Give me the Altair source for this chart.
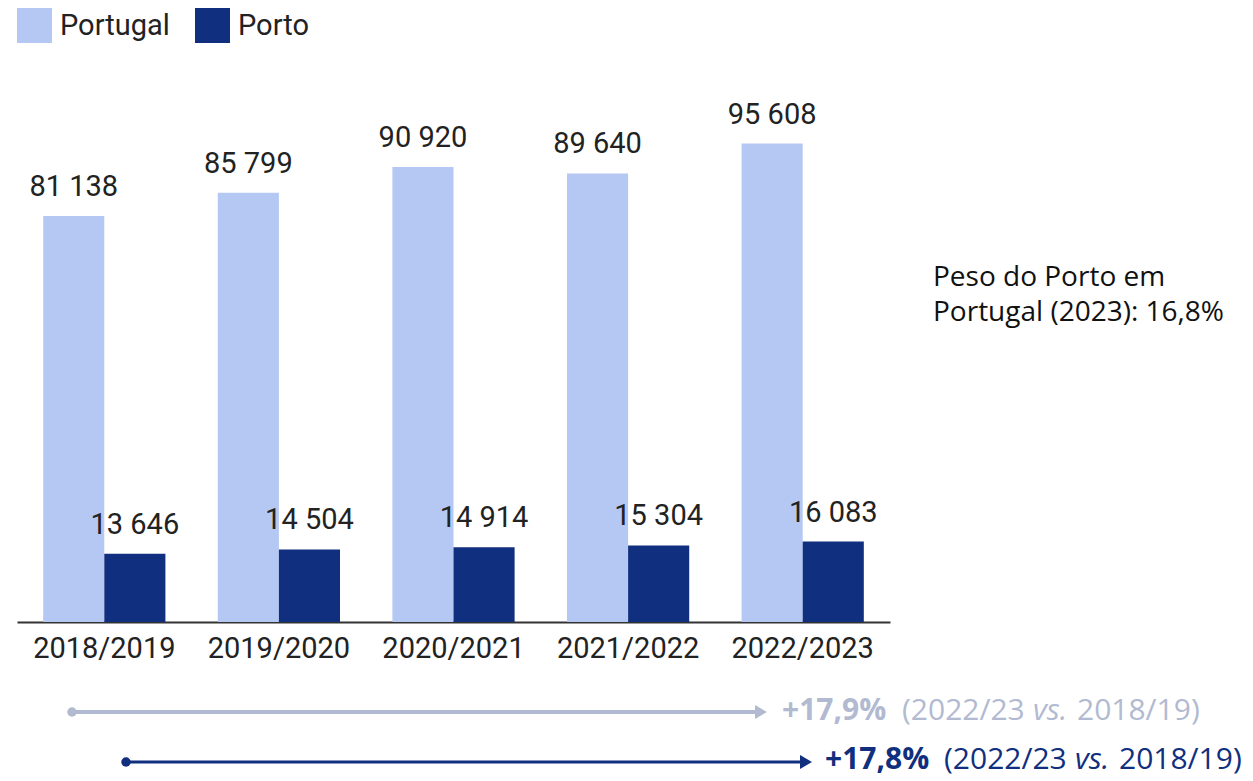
import altair as alt
import pandas as pd

# ---- data ----
categories = ["2018/2019", "2019/2020", "2020/2021", "2021/2022", "2022/2023"]
series = ["Portugal", "Porto"]
portugal_values = [81138, 85799, 90920, 89640, 95608]
porto_values = [13646, 14504, 14914, 15304, 16083]

side_note = ["Peso do Porto em", "Portugal (2023): 16,8%"]
growth_portugal = "+17,9%"
growth_porto = "+17,8%"
period_a = "(2022/23"
period_vs = "vs."
period_b = "2018/19)"

# ---- styles ----
C_PT = "#b5c8f3"
C_PO = "#102f7e"
C_GREY = "#b2bad1"
C_TXT = "#222222"

rows = []
for c, a, b in zip(categories, portugal_values, porto_values):
    rows.append({"cat": c, "series": "Portugal", "value": a})
    rows.append({"cat": c, "series": "Porto", "value": b})
df = pd.DataFrame(rows)
df["label"] = df["value"].map(lambda v: f"{v:,}".replace(",", " "))

W, H = 873, 614

base = alt.Chart(df).encode(
    x=alt.X("cat:N", sort=categories,
            scale=alt.Scale(paddingInner=0.3, paddingOuter=0.15),
            axis=alt.Axis(title=None, labelAngle=0, domainColor="#333333",
                          domainWidth=2, ticks=False, labelFont="Roboto",
                          labelFontSize=29, labelColor=C_TXT, labelPadding=12,
                          grid=False)),
    xOffset=alt.XOffset("series:N", sort=series,
                        scale=alt.Scale(paddingInner=0, paddingOuter=0)),
    y=alt.Y("value:Q", scale=alt.Scale(domain=[0, 122700], nice=False, zero=True),
            axis=None),
)

bars = base.mark_bar().encode(
    color=alt.Color("series:N", sort=series,
                    scale=alt.Scale(domain=series, range=[C_PT, C_PO]),
                    legend=alt.Legend(title=None, orient="none", legendX=0, legendY=0,
                                      direction="horizontal", symbolType="square",
                                      symbolSize=1225, symbolStrokeWidth=0,
                                      symbolOpacity=1, labelFont="Roboto",
                                      labelFontSize=29, labelColor=C_TXT,
                                      labelOffset=8, columnPadding=25, padding=0))
)

labels = base.mark_text(dy=-20, baseline="alphabetic", font="Roboto",
                        fontSize=29, color=C_TXT).encode(text="label:N")

one = pd.DataFrame({"k": [0]})


def arrow(x1, x2, y, color, sw):
    line = alt.Chart(one).mark_rule(color=color, strokeWidth=sw).encode(
        x=alt.value(x1), x2=alt.value(x2), y=alt.value(y))
    dot = alt.Chart(one).mark_point(shape="circle", filled=True, size=90,
                                    opacity=1, color=color).encode(
        x=alt.value(x1), y=alt.value(y))
    head = alt.Chart(one).mark_point(shape="triangle-right", filled=True, size=190,
                                     opacity=1, color=color).encode(
        x=alt.value(x2), y=alt.value(y))
    return line + dot + head


def txt(s, x, y, color, weight="normal", style="normal", font="Open Sans", size=30):
    return alt.Chart(one).mark_text(align="left", baseline="alphabetic", font=font,
                                    fontSize=size, fontWeight=weight, fontStyle=style,
                                    color=color).encode(
        x=alt.value(x), y=alt.value(y), text=alt.value(s))


ann = [
    arrow(55, 744, 704, C_GREY, 4),
    arrow(109, 789, 754, C_PO, 3),
    txt(growth_portugal, 765, 712, C_GREY, weight="bold"),
    txt(period_a, 885, 712, C_GREY),
    txt(period_vs, 1016, 712, C_GREY, style="italic"),
    txt(period_b, 1060, 712, C_GREY),
    txt(growth_porto, 808, 761, C_PO, weight="bold"),
    txt(period_a, 927, 761, C_PO),
    txt(period_vs, 1058, 761, C_PO, style="italic"),
    txt(period_b, 1102, 761, C_PO),
    txt(side_note[0], 916, 278, "#111111", size=28),
    txt(side_note[1], 916, 313, "#111111", size=28),
]

chart = alt.layer(bars, labels, *ann).properties(
    width=W, height=H,
    padding={"left": 9, "top": 0, "right": 0, "bottom": 0},
).configure_view(stroke=None)

chart.save("out.html", embed_options={"renderer": "svg", "actions": False})
